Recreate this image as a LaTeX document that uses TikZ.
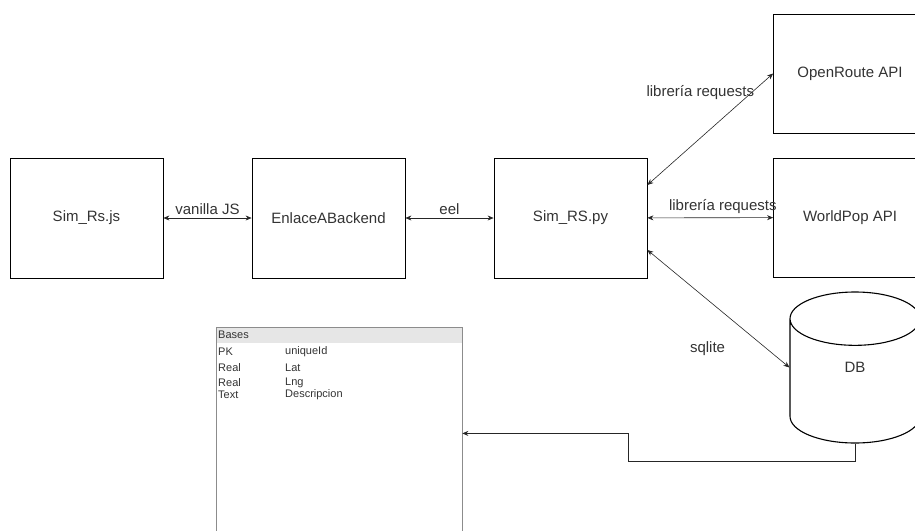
\documentclass[tikz,border=0pt]{standalone}
\usepackage{fontspec}
\setmainfont{Liberation Sans}
\usetikzlibrary{arrows.meta,shapes.geometric}

\definecolor{txtgray}{HTML}{333333}
\definecolor{hdrgray}{HTML}{E6E6E6}
\definecolor{tblgray}{HTML}{8C8C8C}

\tikzset{
  comp/.style={draw, line width=0.8pt, minimum width=153pt, minimum height=120pt,
    text=txtgray, font=\fontsize{15}{18}\selectfont},
  link/.style={<->, line width=0.6pt, draw=black!85},
  lbl/.style={text=txtgray, font=\fontsize{15}{18}\selectfont},
  cell/.style={text=txtgray, font=\fontsize{11}{13}\selectfont, inner sep=0pt, anchor=west}
}

\begin{document}
\begin{tikzpicture}[x=1pt, y=-1pt, >={Stealth[length=6pt,width=5pt]}]

    % Page frame
    \useasboundingbox (0,0) rectangle (915,530);
    \clip (0,0) rectangle (915,530);

    % Frontend / backend chain
    \node[comp] (js)  at (86.5,218) {Sim\_Rs.js};
    \node[comp] (enl) at (328.5,218) {EnlaceABackend};
    \node[comp] (py)  at (570.5,218) {Sim\_RS.py};

    % External services
    \node[comp, minimum height=119pt] (ors) at (850,73.5) {OpenRoute API};
    \node[comp, minimum height=119pt] (wp)  at (850,217.5) {WorldPop API};

    % Database
    \node[cylinder, shape border rotate=90, draw, line width=1.1pt, aspect=8,
          minimum width=130pt, minimum height=151pt, anchor=shape center] (db)
          at (855,367.5) {};
    \node[lbl] (dbtxt) at (db.shape center) {DB};

    % Table Bases
    \node[fill=hdrgray, inner sep=0pt, minimum width=246pt, minimum height=16pt,
          anchor=north west] (hdr) at (215.5,327) {};
    \node[draw=tblgray, line width=0.8pt, inner sep=0pt, minimum width=246pt,
          minimum height=212pt, anchor=north west] (bases) at (215.5,327) {};
    \node[cell] (tname) at (218,335) {Bases};
    \node[cell] (k1) at (218,352) {PK};
    \node[cell] (v1) at (285,352) {uniqueId};
    \node[cell] (k2) at (218,368) {Real};
    \node[cell] (v2) at (285,368) {Lat};
    \node[cell] (k3) at (218,383) {Real};
    \node[cell] (v3) at (285,383) {Lng};
    \node[cell] (k4) at (218,395) {Text};
    \node[cell] (v4) at (285,395) {Descripcion};

    % Connectors
    \draw[link] (js) -- (enl) node[lbl, midway, above] {vanilla JS};
    \draw[link] (enl) -- (py) node[lbl, midway, above] {eel};
    \draw[link] (py) -- (wp) node[lbl, pos=0.6, above] {librería requests};
    \draw[link] ([yshift=33pt]py.east) -- (ors.west)
        node[lbl, pos=0.83, anchor=east, xshift=6pt] {librería requests};
    \draw[link] ([yshift=-32pt]py.east) -- (db.west |- dbtxt)
        node[lbl, pos=0.55, xshift=-18pt, yshift=-34pt] {sqlite};
    \draw[->, line width=0.6pt, draw=black!85] (db.south) -- ++(0,18)
        -| ([xshift=166pt]bases.east) -- (bases.east);

\end{tikzpicture}
\end{document}
